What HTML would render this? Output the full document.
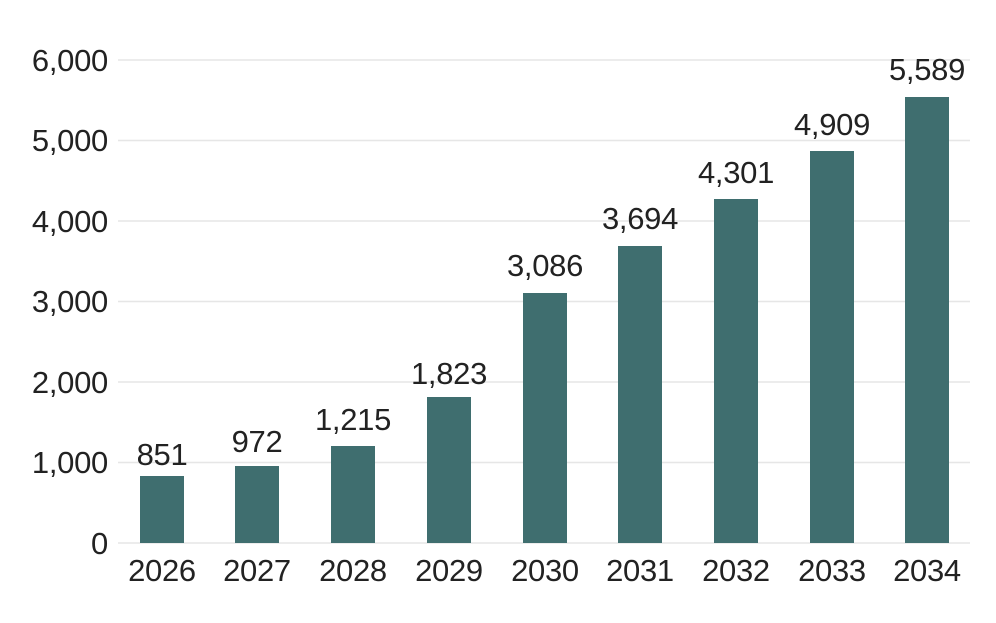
<!DOCTYPE html>
<html><head><style>
body{margin:0;background:#fff;}
svg text{font-family:"Liberation Sans",sans-serif;fill:#222;font-size:31px;letter-spacing:-0.3px;}
</style></head><body>
<svg width="996" height="618" xmlns="http://www.w3.org/2000/svg">
<g stroke="#e6e6e6" stroke-width="1.5">
<line x1="118" x2="970" y1="60" y2="60"/>
<line x1="118" x2="970" y1="140.5" y2="140.5"/>
<line x1="118" x2="970" y1="221" y2="221"/>
<line x1="118" x2="970" y1="301.5" y2="301.5"/>
<line x1="118" x2="970" y1="382" y2="382"/>
<line x1="118" x2="970" y1="462.5" y2="462.5"/>
<line x1="118" x2="970" y1="543" y2="543"/>
</g>
<g text-anchor="end">
<text x="108" y="71">6,000</text>
<text x="108" y="151">5,000</text>
<text x="108" y="232">4,000</text>
<text x="108" y="312">3,000</text>
<text x="108" y="393">2,000</text>
<text x="108" y="473">1,000</text>
<text x="108" y="554">0</text>
</g>
<g fill="#3f6e6f">
<rect x="140" y="476" width="44" height="67"/>
<rect x="235" y="466" width="44" height="77"/>
<rect x="331" y="446" width="44" height="97"/>
<rect x="427" y="397" width="44" height="146"/>
<rect x="523" y="293" width="44" height="250"/>
<rect x="618" y="246" width="44" height="297"/>
<rect x="714" y="199" width="44" height="344"/>
<rect x="810" y="151" width="44" height="392"/>
<rect x="905" y="97" width="44" height="446"/>
</g>
<g text-anchor="middle">
<text x="162" y="465">851</text>
<text x="257" y="452">972</text>
<text x="353" y="430">1,215</text>
<text x="449" y="384">1,823</text>
<text x="545" y="276">3,086</text>
<text x="640" y="229">3,694</text>
<text x="736" y="183">4,301</text>
<text x="832" y="135">4,909</text>
<text x="927" y="80">5,589</text>
</g>
<g text-anchor="middle">
<text x="162" y="581">2026</text>
<text x="257" y="581">2027</text>
<text x="353" y="581">2028</text>
<text x="449" y="581">2029</text>
<text x="545" y="581">2030</text>
<text x="640" y="581">2031</text>
<text x="736" y="581">2032</text>
<text x="832" y="581">2033</text>
<text x="927" y="581">2034</text>
</g>
</svg>
</body></html>
